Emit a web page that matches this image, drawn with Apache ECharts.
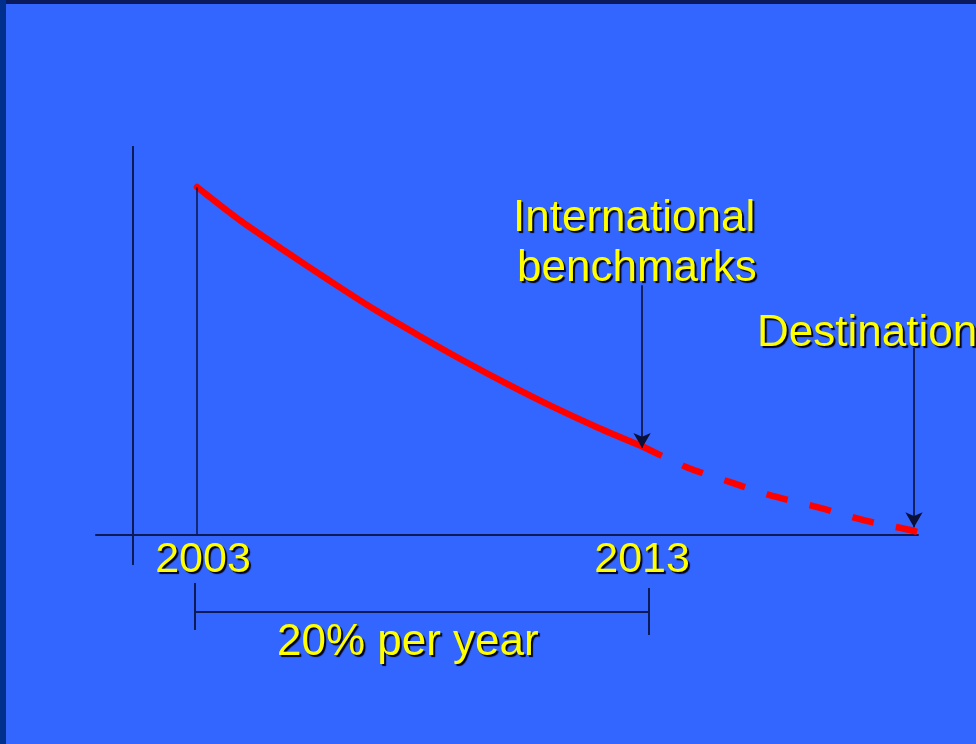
<!DOCTYPE html>
<html>
<head>
<meta charset="utf-8">
<script src="https://cdn.jsdelivr.net/npm/echarts@6/dist/echarts.min.js"></script>
<style>
  html, body { margin: 0; padding: 0; background: #3366ff; }
  #wrap { position: relative; width: 976px; height: 744px; overflow: hidden; }
  #chart { position: absolute; left: 0; top: 0; width: 976px; height: 744px; }
  #bt { position: absolute; left: 0; top: 0; width: 976px; height: 4px; background: #0a1a5c; }
  #bl { position: absolute; left: 0; top: 0; width: 6px; height: 744px; background: #00308e; }
</style>
</head>
<body>
<div id="wrap">
  <div id="chart"></div>
  <div id="bt"></div>
  <div id="bl"></div>
</div>
<script>
// ---- data ----
const solidYears  = [2003, 2004, 2005, 2006, 2007, 2008, 2009, 2010, 2011, 2012, 2013];
const solidValues = [100, 90.1, 81.4, 72.9, 64.7, 57.2, 50.0, 43.2, 36.8, 30.9, 25.5];
const dashedYears  = [2013, 2014, 2015, 2016, 2017, 2018, 2019, 2019.18];
const dashedValues = [25.5, 19.5, 15.1, 11.0, 7.8, 4.2, 1.5, 0.9];
const tickYears  = [2003, 2013];
const tickLabels = ['2003', '2013'];
const startYear = 2003;
const benchmarkYear = 2013;
const destinationYear = 2019.11;
const annotationTexts = ['International', 'benchmarks', 'Destination', '20% per year'];

// ---- styles ----
const navy = '#0c1a55';
const yellow = '#ffff00';
const shadow = { textShadowColor: '#050520', textShadowOffsetX: 2, textShadowOffsetY: 2, textShadowBlur: 1 };
const fontFam = '"Liberation Sans", Arial, sans-serif';

function seg(a, b, opts) {
  const s = Object.assign({ coord: a }, opts && opts.start || {});
  const e = Object.assign({ coord: b }, opts && opts.end || {});
  if (opts && opts.lineStyle) s.lineStyle = opts.lineStyle;
  return [s, e];
}
const thin = { color: navy, width: 2, type: 'solid' };
const arrowStyle = { color: '#0a1038', width: 1.6, type: 'solid' };

const chart = echarts.init(document.getElementById('chart'), null, { renderer: 'canvas' });
chart.setOption({
  animation: false,
  backgroundColor: '#3366ff',
  grid: { left: 96, right: 58, top: 117.4, bottom: 69.8, containLabel: false },
  xAxis: {
    type: 'value', min: 2000.73, max: 2019.2,
    axisLine: { show: true, onZero: true, lineStyle: { color: navy, width: 2 } },
    axisTick: { show: false },
    splitLine: { show: false },
    axisLabel: { show: false }
  },
  yAxis: {
    type: 'value', min: -40, max: 120,
    show: true,
    axisLine: { show: false },
    axisTick: { show: false },
    axisLabel: { show: false },
    splitLine: { show: false }
  },
  series: [
    {
      type: 'line',
      data: solidYears.map((y, i) => [y, solidValues[i]]),
      smooth: 0.3,
      showSymbol: false,
      silent: true,
      z: 3,
      lineStyle: { color: '#ff0000', width: 6.5, cap: 'round' },
      markLine: {
        silent: true,
        symbol: ['none', 'none'],
        symbolSize: [13, 15],
        label: { show: false },
        emphasis: { disabled: true },
        animation: false,
        z: 4,
        data: [
          // y axis line
          seg([2001.56, 111.8], [2001.56, -8.6], { lineStyle: thin }),
          // drop line at start year
          seg([startYear, solidValues[0]], [startYear, 0], { lineStyle: { color: navy, width: 1.6, type: 'solid' } }),
          // benchmark arrow
          seg([benchmarkYear, 71.8], [benchmarkYear, 25.0], { lineStyle: arrowStyle, end: { symbol: 'arrow' } }),
          // destination arrow
          seg([destinationYear, 53.7], [destinationYear, 2.2], { lineStyle: arrowStyle, end: { symbol: 'arrow' } }),
          // bracket
          seg([2002.95, -22.1], [2013.16, -22.1], { lineStyle: thin }),
          seg([2002.95, -13.8], [2002.95, -27.3], { lineStyle: thin }),
          seg([2013.16, -15.2], [2013.16, -28.7], { lineStyle: thin })
        ]
      },
      markPoint: {
        silent: true,
        symbol: 'circle',
        symbolSize: 0,
        itemStyle: { color: 'rgba(0,0,0,0)' },
        animation: false,
        z: 5,
        label: Object.assign({
          show: true,
          position: 'inside',
          color: yellow,
          fontSize: 43,
          fontFamily: fontFam,
          formatter: function (p) { return p.name; }
        }, shadow),
        data: tickYears.map((y, i) => ({
          name: tickLabels[i],
          coord: [y, 0],
          label: { offset: [i === 0 ? 6 : 0, 25] }
        }))
      }
    },
    {
      type: 'line',
      data: dashedYears.map((y, i) => [y, dashedValues[i]]),
      smooth: 0.3,
      showSymbol: false,
      silent: true,
      z: 3,
      lineStyle: { color: '#ff0000', width: 6.5, type: [22, 22.5], cap: 'butt' }
    }
  ],
  graphic: [
    { type: 'text', left: 513, top: 197, style: Object.assign({ text: annotationTexts[0], fill: yellow, font: '44px ' + fontFam }, shadow), silent: true },
    { type: 'text', left: 517, top: 247, style: Object.assign({ text: annotationTexts[1], fill: yellow, font: '44px ' + fontFam }, shadow), silent: true },
    { type: 'text', left: 757, top: 312, style: Object.assign({ text: annotationTexts[2], fill: yellow, font: '44px ' + fontFam }, shadow), silent: true },
    { type: 'text', left: 277, top: 621, style: Object.assign({ text: annotationTexts[3], fill: yellow, font: '44px ' + fontFam }, shadow), silent: true }
  ]
});
</script>
</body>
</html>
